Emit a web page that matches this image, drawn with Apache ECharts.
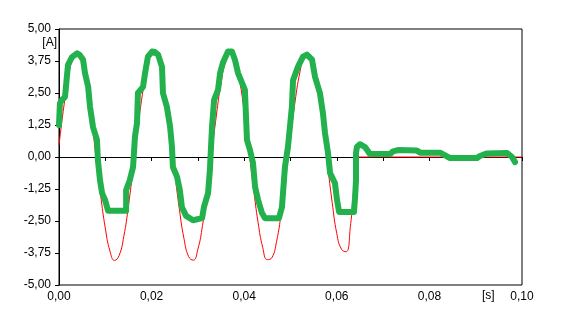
<!DOCTYPE html>
<html>
<head>
<meta charset="utf-8">
<script src="https://cdn.jsdelivr.net/npm/echarts@6/dist/echarts.min.js"></script>
<style>
  html, body { margin: 0; padding: 0; background: #fff; }
  #chart { width: 565px; height: 327px; }
</style>
</head>
<body>
<div id="chart"></div>
<script>
// red: reference current, time in ms
const redTimeMs = [0, 1, 2, 3, 4, 5, 6, 7, 8, 9, 10, 11, 12, 13, 14, 15, 16, 17, 18, 19,
  20, 21, 22, 23, 24, 25, 26, 27, 28, 29, 30, 31, 32, 33, 34, 35, 36, 37, 38, 39,
  40, 41, 42, 43, 44, 45, 46, 47, 48, 49, 50, 51, 52, 53, 54, 55, 56, 57, 58, 59,
  60, 61, 62, 63, 63.5, 64, 64.5, 65, 66, 100];
const redCurrent = [0.46, 1.91, 3.10, 3.84, 4.04, 3.67, 2.78, 1.50, 0.00, -1.50,
  -2.78, -3.67, -4.04, -3.84, -3.10, -1.91, -0.46, 1.06, 2.43, 3.46,
  3.99, 3.96, 3.38, 2.30, 0.91, -0.61, -2.04, -3.19, -3.89, -4.03,
  -3.60, -2.67, -1.35, 0.15, 1.64, 2.89, 3.73, 4.05, 3.79, 2.99,
  1.78, 0.31, -1.21, -2.56, -3.53, -4.01, -3.93, -3.29, -2.18, -0.76,
  0.76, 2.18, 3.28, 3.93, 4.01, 3.53, 2.55, 1.21, -0.30, -1.77,
  -2.99, -3.60, -3.70, -2.60, -1.60, -0.50, 0, 0, 0, 0];

// green: measured current, time in ms
const greenTimeMs = [0, 0.2, 0.65, 1.3, 1.7, 1.95, 2.8, 3.9, 4.5, 5.2, 5.6, 6.3, 6.7, 7.35, 8.2, 8.4,
  8.85, 9.3, 9.95, 10.6, 14.5, 14.5, 15.3, 16.0, 16.4, 16.85, 17.05, 18.15, 18.6, 19.2,
  20.1, 20.7, 21.4, 22.25, 22.45, 23.3, 24.0, 24.4, 24.6, 25.5, 26.1, 26.55, 27.45, 28.95,
  30.9, 31.3, 32.2, 32.6, 32.8, 33.05, 33.5, 34.35, 34.8, 35.4, 36.5, 37.35, 38.0, 38.65,
  40.15, 40.6, 41.25, 41.9, 42.35, 43.0, 43.85, 44.5, 47.5, 48.15, 48.8, 49.45, 50.3, 50.55,
  51.6, 52.7, 53.55, 54.65, 55.3, 56.35, 57.0, 57.45, 58.1, 58.55, 59.6, 60.05, 60.5, 63.7,
  63.95, 64.15, 64.15, 64.35, 65.0, 66.1, 67.15, 71.5, 72.15, 73.2, 77.3, 78.0, 82.3, 83.8,
  84.45, 90.3, 90.9, 92.45, 96.75, 97.85, 98.5];
const greenCurrent = [1.25, 2.1, 2.23, 2.35, 3.13, 3.6, 3.9, 4.05, 3.98, 3.8, 3.29, 2.74, 1.96, 1.17, 0.67, -0.12,
  -0.9, -1.41, -1.68, -2.1, -2.1, -1.29, -0.9, -0.39, 0.78, 1.33, 2.5, 2.74, 3.29, 3.92,
  4.12, 4.1, 4.0, 3.52, 2.5, 1.96, 1.17, 0.39, -0.39, -0.78, -1.29, -1.96, -2.3, -2.47,
  -2.39, -1.96, -1.41, -0.5, 0.27, 1.17, 2.23, 2.62, 3.29, 3.68, 4.12, 4.12, 3.8, 3.29,
  2.62, 0.67, 0.27, -0.23, -1.17, -1.68, -2.19, -2.39, -2.39, -1.96, -0.39, 0.39, 1.96, 3.0,
  3.52, 3.92, 4.0, 3.8, 3.13, 2.5, 1.72, 0.94, 0.16, -0.63, -1.02, -1.68, -2.15, -2.15,
  -1.57, -0.9, 0.16, 0.39, 0.5, 0.39, 0.12, 0.12, 0.22, 0.27, 0.25, 0.17, 0.17, 0.02,
  -0.04, -0.04, 0.04, 0.14, 0.16, 0.0, -0.2];

const comma = (v) => v.toFixed(2).replace('.', ',');
const font = 'Liberation Sans, Arial, sans-serif';

const chart = echarts.init(document.getElementById('chart'));

chart.setOption({
  animation: false,
  backgroundColor: '#fff',
  grid: {
    left: 59, right: 43, top: 29, bottom: 42,
    show: true, borderColor: '#000', borderWidth: 1
  },
  xAxis: {
    type: 'value',
    min: 0, max: 0.1, interval: 0.01,
    axisLine: { lineStyle: { color: '#000', width: 1 } },
    axisTick: { length: 4, lineStyle: { color: '#000' } },
    splitLine: { show: false },
    axisLabel: {
      color: '#000', fontSize: 12, fontFamily: font, margin: 6,
      formatter: (v) => Math.round(v * 100) % 2 === 0 ? comma(v) : ''
    }
  },
  yAxis: {
    type: 'value',
    min: -5, max: 5, interval: 1.25,
    axisLine: { lineStyle: { color: '#000', width: 1 } },
    axisTick: { length: 4, lineStyle: { color: '#000' } },
    splitLine: { show: false },
    axisLabel: { color: '#000', fontSize: 12, fontFamily: font, margin: 8, formatter: comma }
  },
  graphic: [
    { type: 'text', right: 565 - 57, top: 37,
      style: { text: '[A]', fill: '#000', font: '12px ' + font } },
    { type: 'text', left: 482, top: 290,
      style: { text: '[s]', fill: '#000', font: '12px ' + font } }
  ],
  series: [
    {
      name: 'red', type: 'line', smooth: 0.5,
      showSymbol: false, z: 2,
      lineStyle: { color: '#ff0000', width: 1 },
      data: redTimeMs.map((t, i) => [t / 1000, redCurrent[i]])
    },
    {
      name: 'green', type: 'line', showSymbol: false, z: 3,
      lineStyle: { color: '#22b14c', width: 6, join: 'round', cap: 'round' },
      data: greenTimeMs.map((t, i) => [t / 1000, greenCurrent[i]])
    }
  ]
});
</script>
</body>
</html>
